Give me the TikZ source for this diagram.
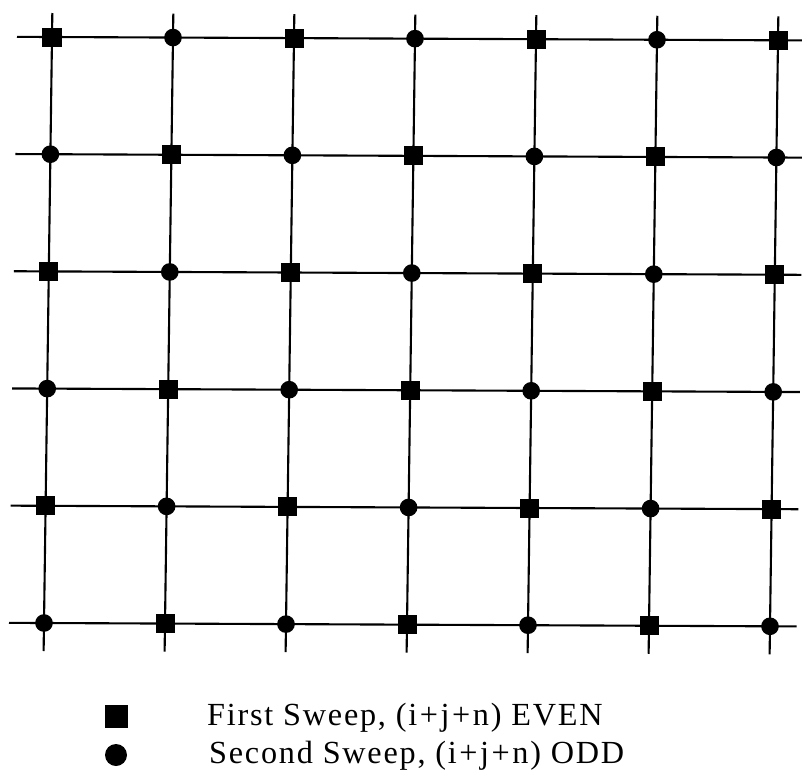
\documentclass[tikz,border=0pt]{standalone}
\usepackage{fontspec}
\setmainfont{Liberation Serif}
\newfontfamily\keyfont[LetterSpace=5.5]{Liberation Serif}
\usetikzlibrary{calc}
\tikzset{
  gridline/.style={line width=1.8pt,draw=black},
  evenpt/.style={rectangle,fill=black,minimum size=0.57cm,inner sep=0pt},
  oddpt/.style={circle,fill=black,minimum size=0.53cm,inner sep=0pt},
  keytext/.style={anchor=base west,inner sep=0pt,font=\keyfont\fontsize{27.5}{34}\selectfont}
}
\newcommand{\pl}{\kern0.08em+\kern0.08em}

\begin{document}
\begin{tikzpicture}[x=0.03cm,y=-0.03cm]
\useasboundingbox (0,0) rectangle (802,774);

% grid points (the scan is slightly skewed)
\foreach \i in {0,...,6}{
  \foreach \j in {0,...,5}{
    \coordinate (c-\i-\j) at ({52+121*\i-1.6*\j},{37+117.2*\j+0.55*\i});
  }
}

% lines
\foreach \j in {0,...,5}
  \draw[gridline] ($(c-0-\j)!-1.05cm!(c-6-\j)$) coordinate (l-\j)
    -- ($(c-6-\j)!-0.8cm!(c-0-\j)$) coordinate (r-\j);
\foreach \i in {0,...,6}
  \draw[gridline] ($(c-\i-0)!-0.72cm!(c-\i-5)$) coordinate (t-\i)
    -- ($(c-\i-5)!-0.84cm!(c-\i-0)$) coordinate (b-\i);

% sweep points
\foreach \i in {0,...,6}{
  \foreach \j in {0,...,5}{
    \pgfmathtruncatemacro\parity{mod(\i+\j,2)}
    \ifnum\parity=0
      \node[evenpt] (n-\i-\j) at (c-\i-\j) {};
    \else
      \node[oddpt] (n-\i-\j) at (c-\i-\j) {};
    \fi
  }
}

% key
\node[evenpt,minimum size=0.69cm] (keysq) at (116,716) {};
\node[oddpt,minimum size=0.66cm] (keydot) at (116,755) {};
\node[keytext] (keyeven) at (207,725) {First Sweep, (i\pl j\pl n) EVEN};
\node[keytext] (keyodd) at (209,763) {Second Sweep, (i\pl j\pl n) ODD};
\end{tikzpicture}
\end{document}
